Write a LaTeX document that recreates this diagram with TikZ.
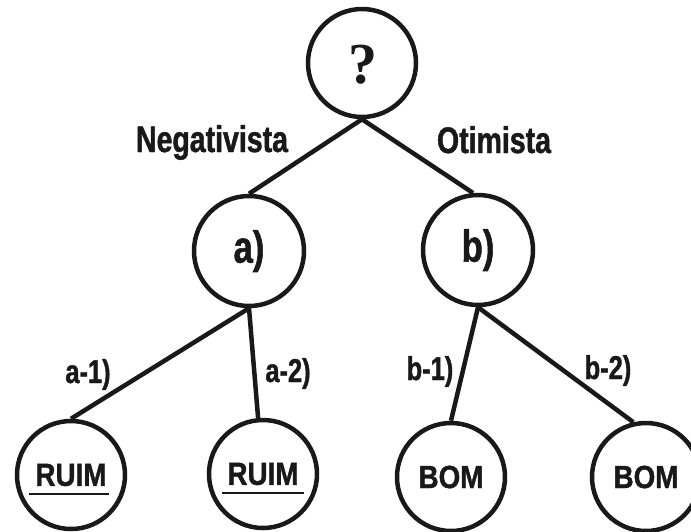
\documentclass[tikz,border=0pt]{standalone}
\usepackage{fontspec}
\setmainfont{Liberation Sans}
\newfontfamily\lowf[FakeStretch=0.77,FakeBold=1.2]{Liberation Sans}
\newfontfamily\upf[FakeStretch=0.87,FakeBold=1.2]{Liberation Sans}
\newfontfamily\qf{Liberation Serif}
\begin{document}
\begin{tikzpicture}[x=1pt,y=-1pt,
  circ/.style={circle, draw=black!90, line width=4.5pt, minimum size=108pt, inner sep=0pt},
  edge/.style={draw=black!90, line width=4.5pt},
  lbl/.style={font=\lowf\bfseries\fontsize{37}{40}\selectfont, anchor=base, text=black!90},
  sublbl/.style={font=\lowf\bfseries\fontsize{33}{36}\selectfont, anchor=base, text=black!90},
  midtxt/.style={font=\lowf\bfseries\fontsize{45}{48}\selectfont, text=black!90},
  bottxt/.style={font=\upf\bfseries\fontsize{32}{36}\selectfont, text=black!90},
  uline/.style={draw=black!90, line width=2.5pt}]
\useasboundingbox (0,0) rectangle (691,531);
\clip (0,0) rectangle (691,531);
% nodes
\node[circ] (q) at (362,63) {};
\node[font=\qf\bfseries\fontsize{58}{60}\selectfont, anchor=base, text=black!90] (qm) at (363,83) {?};
\node[circ, minimum size=110pt, midtxt] (a) at (249,251) {a)};
\node[circ, minimum size=110pt, midtxt] (b) at (478,250) {b)};
\node[circ, bottxt] (r1) at (71,475) {RUIM};
\node[circ, bottxt] (r2) at (263,474) {RUIM};
\node[circ, bottxt] (b1) at (451,477) {BOM};
\node[circ, bottxt] (b2) at (646,477) {BOM};
% edges
\draw[edge] (q.south) -- (a.north);
\draw[edge] (q.south) -- (b.95);
\draw[edge] (a.south) -- (r1.north);
\draw[edge] (a.south) -- (r2.95);
\draw[edge] (b.south) -- (b1.north);
\draw[edge] (b.south) -- (b2.103);
% underlines
\draw[uline] ([xshift=-42pt,yshift=-19pt]r1.center) -- ([xshift=38pt,yshift=-19pt]r1.center);
\draw[uline] ([xshift=-41pt,yshift=-19pt]r2.center) -- ([xshift=41pt,yshift=-19pt]r2.center);
% labels
\node[lbl] (ln) at (212,152) {Negativista};
\node[lbl] (lo) at (494,153) {Otimista};
\node[sublbl] (la1) at (88,383) {a-1)};
\node[sublbl] (la2) at (288,382) {a-2)};
\node[sublbl] (lb1) at (430,380) {b-1)};
\node[sublbl] (lb2) at (608,379) {b-2)};
\end{tikzpicture}
\end{document}
